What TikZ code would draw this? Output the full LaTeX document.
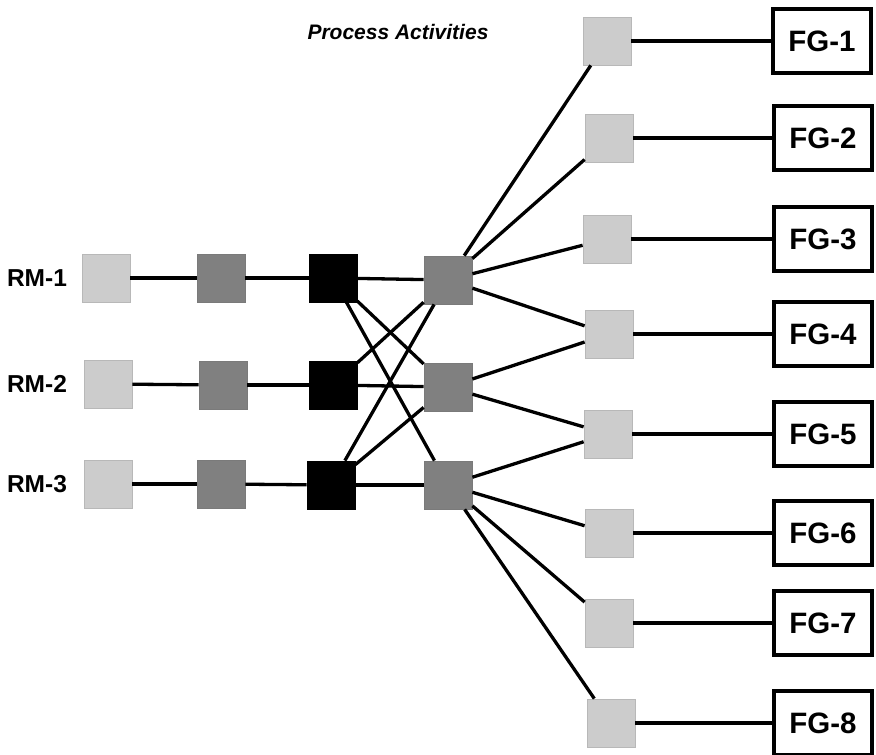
\documentclass[tikz,border=0pt]{standalone}
\usepackage{fontspec}
\setmainfont{Liberation Sans}
\begin{document}
\begin{tikzpicture}[x=1pt,y=-1pt,
  sq/.style={draw=#1, line width=0.8pt, minimum size=48pt, inner sep=0pt},
  lt/.style={sq=black!28, fill=black!20},
  md/.style={sq=black!52, fill=black!50},
  bk/.style={sq=black, fill=black},
  fg/.style={draw=black, line width=3.4pt, fill=white, minimum width=98pt, minimum height=64pt, inner sep=0pt, font=\fontsize{29.5}{30}\selectfont\bfseries},
  rm/.style={font=\fontsize{24.5}{26}\selectfont\bfseries, inner sep=0pt},
  ln/.style={line width=3.3pt, black}]
\useasboundingbox (0,0) rectangle (876,755);
% title
\node[font=\fontsize{21}{22}\selectfont\bfseries\itshape] (title) at (398,32) {Process Activities};
% RM labels
\node[rm] (rm1) at (37,278) {RM-1};
\node[rm] (rm2) at (37,384) {RM-2};
\node[rm] (rm3) at (37,484) {RM-3};
% columns
\node[lt] (a1) at (106,278) {};
\node[lt] (a2) at (108,384) {};
\node[lt] (a3) at (108,484) {};
\node[md] (b1) at (221,278) {};
\node[md] (b2) at (223,385) {};
\node[md] (b3) at (221,484) {};
\node[bk] (c1) at (333,278) {};
\node[bk] (c2) at (333,385) {};
\node[bk] (c3) at (331,485) {};
\node[md] (h1) at (448,280) {};
\node[md] (h2) at (448,387) {};
\node[md] (h3) at (448,485) {};
% right squares
\node[lt] (s1) at (607,41) {};
\node[lt] (s2) at (609,138) {};
\node[lt] (s3) at (607,239) {};
\node[lt] (s4) at (609,334) {};
\node[lt] (s5) at (608,434) {};
\node[lt] (s6) at (609,533) {};
\node[lt] (s7) at (609,623) {};
\node[lt] (s8) at (611,723) {};
% FG boxes
\node[fg] (f1) at (822,41) {FG-1};
\node[fg] (f2) at (823,138) {FG-2};
\node[fg] (f3) at (823,239) {FG-3};
\node[fg] (f4) at (823,334) {FG-4};
\node[fg] (f5) at (823,434) {FG-5};
\node[fg] (f6) at (823,533) {FG-6};
\node[fg] (f7) at (823,623) {FG-7};
\node[fg] (f8) at (823,723) {FG-8};
% connectors
\foreach \i in {1,2,3}{
  \draw[ln] (a\i) -- (b\i);
  \draw[ln] (b\i) -- (c\i);
  \draw[ln] (c\i) -- (h\i);
}
\draw[ln] (c1) -- (h2);
\draw[ln] (c1) -- (h3);
\draw[ln] (c2) -- (h1);
\draw[ln] (c3) -- (h1);
\draw[ln] (c3) -- (h2);
\draw[ln] (h1) -- (s1);
\draw[ln] (h1) -- (s2);
\draw[ln] (h1) -- (s3);
\draw[ln] (h1) -- (s4);
\draw[ln] (h2) -- (s4);
\draw[ln] (h2) -- (s5);
\draw[ln] (h3) -- (s5);
\draw[ln] (h3) -- (s6);
\draw[ln] (h3) -- (s7);
\draw[ln] (h3) -- (s8);
\foreach \i in {1,...,8}{
  \draw[ln] (s\i) -- (f\i);
}
\end{tikzpicture}
\end{document}
